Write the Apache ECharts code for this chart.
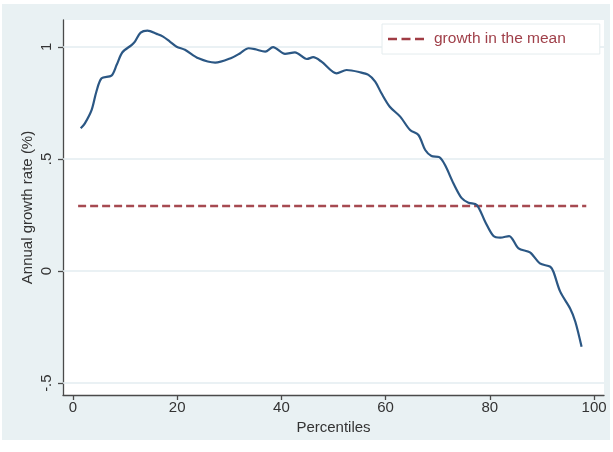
<!DOCTYPE html>
<html>
<head>
<meta charset="utf-8">
<script src="https://cdn.jsdelivr.net/npm/echarts@6/dist/echarts.min.js"></script>
<style>
  html, body { margin: 0; padding: 0; background: #ffffff; }
  #chart { width: 613px; height: 452px; }
</style>
</head>
<body>
<div id="chart"></div>
<script>
// Growth incidence curve: annual growth rate by percentile
const percentiles = [1.5, 2.3, 3.6, 4.5, 5.5, 7.4, 8.4, 9.5, 11.3, 11.9, 13.0, 14.3, 16.1, 17.3, 18.6,
  19.9, 21.5, 24.1, 27.3, 30.5, 32.1, 33.7, 34.9, 36.9, 38.4, 40.7, 42.6, 44.9, 46.1, 47.7,
  50.6, 52.5, 55.1, 56.7, 58.0, 59.2, 60.8, 62.8, 64.7, 66.3, 67.6, 68.8, 70.3, 71.4, 73.0,
  74.6, 75.9, 77.5, 79.1, 80.7, 82.0, 83.7, 85.5, 87.7, 89.6, 91.6, 92.2, 93.5, 95.4, 96.4, 97.6];
const growthRate = [0.637, 0.659, 0.719, 0.800, 0.860, 0.872, 0.920, 0.976, 1.009, 1.024, 1.064, 1.073, 1.058, 1.046, 1.024,
  1.001, 0.987, 0.949, 0.930, 0.952, 0.972, 0.994, 0.990, 0.979, 0.999, 0.969, 0.976, 0.946, 0.954, 0.934,
  0.882, 0.897, 0.887, 0.875, 0.845, 0.793, 0.733, 0.689, 0.629, 0.607, 0.540, 0.513, 0.508, 0.473, 0.392,
  0.325, 0.305, 0.295, 0.220, 0.156, 0.149, 0.156, 0.101, 0.083, 0.034, 0.019, -0.003, -0.092, -0.167, -0.226, -0.338];

// Growth in the mean (horizontal reference)
const meanGrowth = 0.29;
const meanSpan = [1.0, 98.5];

// Axis ticks
const xTicks = [0, 20, 40, 60, 80, 100];
const yTicks = [-0.5, 0, 0.5, 1];

const fontFamily = '"Liberation Sans", Arial, Helvetica, sans-serif';

function stataNumber(v) {
  if (v === 0) return '0';
  const s = String(Math.abs(v)).replace(/^0\./, '.');
  return (v < 0 ? '-' : '') + s;
}

const chart = echarts.init(document.getElementById('chart'), null, { renderer: 'canvas' });

chart.setOption({
  animation: false,
  backgroundColor: '#ffffff',
  textStyle: { fontFamily: fontFamily },
  graphic: [{
    type: 'rect',
    left: 2, top: 4, z: -10,
    shape: { width: 608, height: 436 },
    style: { fill: '#e9f1f3' },
    silent: true
  }],
  grid: {
    left: 63, right: 9, top: 20, bottom: 57,
    show: true, backgroundColor: '#ffffff', borderWidth: 0
  },
  legend: {
    show: true,
    data: ['growth in the mean'],
    left: 382, top: 24,
    padding: [7, 34, 7, 6],
    backgroundColor: '#ffffff',
    borderColor: '#e4ecee',
    borderWidth: 1,
    borderRadius: 0,
    icon: 'path://M0,0h9v2.4h-9z M13.5,0h9v2.4h-9z M27,0h9v2.4h-9z',
    itemWidth: 36, itemHeight: 2.4,
    itemStyle: { color: '#a03c44', borderWidth: 0 },
    textStyle: { color: '#a0404a', fontSize: 15.5, fontFamily: fontFamily, padding: [0, 0, 0, 5], lineHeight: 16 }
  },
  xAxis: {
    type: 'value',
    min: -1.9, max: 101.9,
    name: 'Percentiles',
    nameLocation: 'middle',
    nameGap: 25,
    nameMoveOverlap: false,
    nameTextStyle: { color: '#333', fontSize: 15, fontFamily: fontFamily },
    axisLine: { show: true, onZero: false, lineStyle: { color: '#4a4a4a', width: 1.3 } },
    axisTick: { show: true, length: 5, customValues: xTicks, lineStyle: { color: '#4a4a4a', width: 1.3 } },
    axisLabel: { customValues: xTicks, color: '#333', fontSize: 15, margin: 5, fontFamily: fontFamily },
    splitLine: { show: false }
  },
  yAxis: {
    type: 'value',
    min: -0.553, max: 1.12,
    name: 'Annual growth rate (%)',
    nameLocation: 'middle',
    nameGap: 28,
    nameRotate: 90,
    nameMoveOverlap: false,
    nameTextStyle: { color: '#333', fontSize: 15, fontFamily: fontFamily },
    axisLine: { show: true, onZero: false, lineStyle: { color: '#4a4a4a', width: 1.3 } },
    axisTick: { show: true, length: 5, customValues: yTicks, lineStyle: { color: '#4a4a4a', width: 1.3 } },
    axisLabel: {
      customValues: yTicks, color: '#333', fontSize: 15, margin: 9, rotate: 90,
      fontFamily: fontFamily, formatter: stataNumber
    },
    splitLine: { show: false }
  },
  series: [
    {
      name: 'growth',
      type: 'line',
      data: percentiles.map((p, i) => [p, growthRate[i]]),
      showSymbol: false,
      smooth: 0.3,
      lineStyle: { color: '#2b5784', width: 2.2 },
      itemStyle: { color: '#2b5784' },
      z: 3,
      markLine: {
        silent: true,
        symbol: 'none',
        label: { show: false },
        lineStyle: { color: '#e3edf0', width: 1.5, type: 'solid' },
        data: yTicks.map(v => ({ yAxis: v })),
        z: 1
      }
    },
    {
      name: 'growth in the mean',
      type: 'line',
      data: meanSpan.map(p => [p, meanGrowth]),
      showSymbol: false,
      lineStyle: { color: '#a64a51', width: 2.4, type: [8, 4] },
      itemStyle: { color: '#a03c44' },
      z: 2
    }
  ]
});
</script>
</body>
</html>
